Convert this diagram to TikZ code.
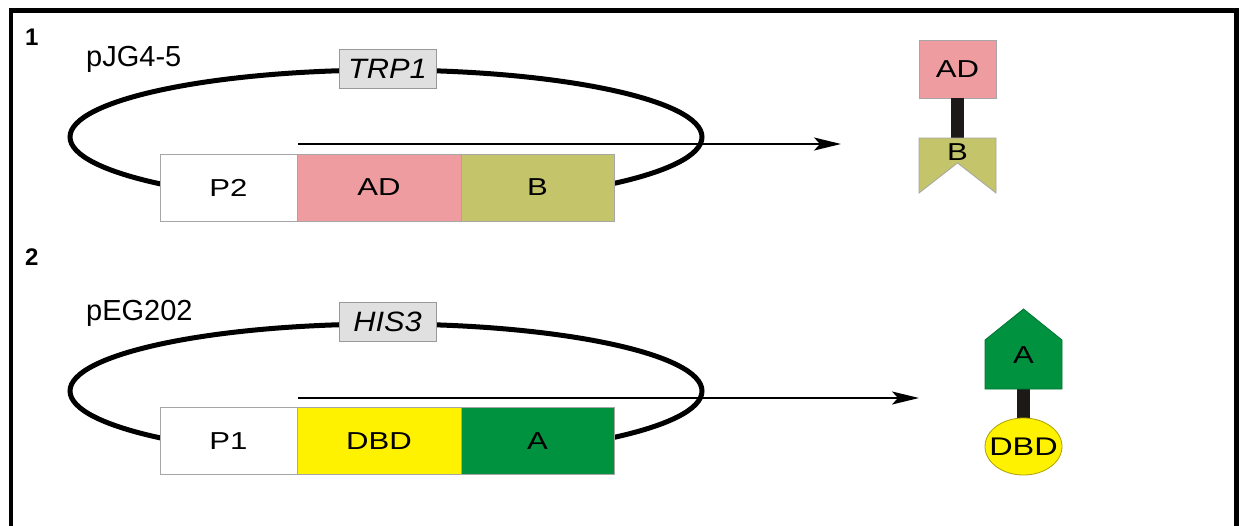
\documentclass[tikz,border=0pt]{standalone}
\usepackage{fontspec}
\setmainfont{Liberation Sans}
\newfontfamily\boxfont{Liberation Sans}[FakeStretch=1.27]
\newfontfamily\markfont{Liberation Sans}[FakeStretch=1.1]
\usetikzlibrary{arrows.meta,shapes.geometric}
\definecolor{pinkAD}{RGB}{239,156,160}
\definecolor{oliveB}{RGB}{196,196,106}
\definecolor{yellowDBD}{RGB}{255,242,0}
\definecolor{greenA}{RGB}{0,146,63}
\definecolor{markergray}{RGB}{224,224,224}
\begin{document}
\begin{tikzpicture}[x=1pt,y=-1pt,
  seg/.style={draw=gray!70, line width=0.8pt, minimum width=#1, minimum height=67pt, inner sep=0pt, outer sep=0pt, font=\boxfont\fontsize{24.5}{24.5}\selectfont},
  marker/.style={draw=gray!80, fill=markergray, line width=0.8pt, minimum width=97pt, minimum height=39pt, inner sep=0pt, font=\markfont\fontsize{28}{28}\selectfont\itshape},
  plasmid/.style={line width=5pt},
  expr/.style={line width=2pt, -{Stealth[length=27pt,width=13pt,inset=6pt]}},
  lbl/.style={font=\fontsize{29}{29}\selectfont, inner sep=0pt, anchor=base west},
  num/.style={font=\fontsize{24}{24}\selectfont\bfseries, inner sep=0pt, anchor=base west},
  prot/.style={font=\boxfont\fontsize{24.5}{24.5}\selectfont, inner sep=0pt},
  stalk/.style={line width=13pt, draw={rgb,255:red,30;green,25;blue,25}}
]
\useasboundingbox (0,0) rectangle (1239,525);
\fill[white] (0,0) rectangle (1239,525);
% frame
\draw[line width=4.5pt] (11,530) -- (11,10.5) -- (1236.5,10.5) -- (1236.5,530);

% ---------- panel 1 ----------
\node[num] (n1) at (25,45.5) {1};
\node[lbl] (pjg) at (86,66) {pJG4-5};
\draw[plasmid] (386,137) ellipse (316 and 67);
\node[marker] (trp) at (387.5,68.5) {TRP1};
\node[seg=137pt, fill=white] (p2) at (228.5,187.5) {P2};
\node[seg=164pt, fill=pinkAD] (ad) at (379,187.5) {AD};
\node[seg=153pt, fill=oliveB] (b) at (537.5,187.5) {B};
\coordinate (s1) at (298,144);
\coordinate (e1) at (841,144);
\draw[expr] (s1) -- (e1);

% protein AD-B
\node[seg=77pt, minimum height=58pt, fill=pinkAD] (pad) at (957.5,69) {AD};
\coordinate (btop) at (957.5,138.5);
\draw[stalk] (pad.south) -- (btop);
\draw[draw=gray!70, line width=0.8pt, fill=oliveB] (919,138) -- (996,138) -- (996,193) -- (957.5,163) -- (919,193) -- cycle;
\node[prot] (pb) at (957.5,152) {B};

% ---------- panel 2 ----------
\node[num] (n2) at (25,265) {2};
\node[lbl] (peg) at (86,320) {pEG202};
\draw[plasmid] (386,391) ellipse (316 and 67);
\node[marker] (his) at (387.5,321.5) {HIS3};
\node[seg=137pt, fill=white] (p1) at (228.5,441) {P1};
\node[seg=164pt, fill=yellowDBD] (dbd) at (379,441) {DBD};
\node[seg=153pt, fill=greenA] (a) at (537.5,441) {A};
\coordinate (s2) at (298,398);
\coordinate (e2) at (919,398);
\draw[expr] (s2) -- (e2);

% protein A-DBD
\coordinate (atop) at (1023.5,385);
\coordinate (dtop) at (1023.5,420);
\draw[stalk] (atop) -- (dtop);
\draw[draw={rgb,255:red,170;green,160;blue,0}, line width=0.8pt, fill=yellowDBD] (1023.5,446.5) ellipse (38.5 and 28.5);
\node[prot, font=\boxfont\fontsize{25.5}{25.5}\selectfont] (pdbd) at (1023.5,446.5) {DBD};
\draw[draw=greenA!80!black, line width=0.8pt, fill=greenA] (985,340) -- (1023.5,309) -- (1062,340) -- (1062,389) -- (985,389) -- cycle;
\node[prot] (pa) at (1023.5,355) {A};
\end{tikzpicture}
\end{document}
